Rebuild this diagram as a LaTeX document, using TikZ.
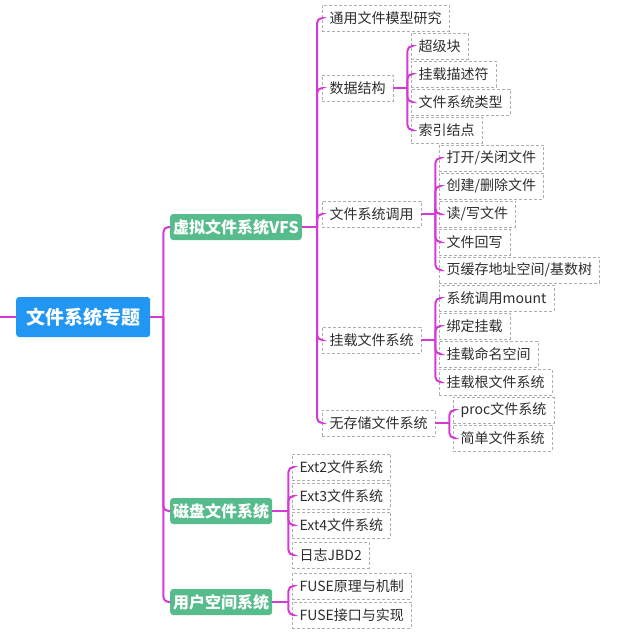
\documentclass[tikz,border=0pt]{standalone}
\usepackage{fontspec}
\setmainfont{Noto Sans CJK SC}
\usetikzlibrary{positioning}
\definecolor{linkpink}{RGB}{214,58,214}
\definecolor{rootblue}{RGB}{33,150,243}
\definecolor{topicgreen}{RGB}{86,188,140}
\definecolor{leafline}{RGB}{175,175,175}
\definecolor{leaftext}{RGB}{45,45,45}

\begin{document}
\begin{tikzpicture}[
    x=1pt, y=-1pt,
    root/.style={fill=rootblue, text=white, rounded corners=3pt, anchor=west,
                 font=\fontsize{19}{21}\selectfont\bfseries, minimum height=40pt, inner xsep=10pt},
    topic/.style={fill=topicgreen, text=white, rounded corners=3pt, anchor=west,
                  font=\fontsize{16}{18}\selectfont\bfseries, minimum height=26pt, inner xsep=3pt},
    leaf/.style={draw=leafline, dash pattern=on 3pt off 2pt, text=leaftext, anchor=west,
                 font=\fontsize{14}{16}\selectfont, minimum height=26pt, inner xsep=7.5pt},
    link/.style={linkpink, line width=2pt},
    fork/.style={link, rounded corners=5pt}
  ]
  \useasboundingbox (0,0) rectangle (641,633);

  % root and topics
  \node[root] (root) at (16,317) {文件系统专题};
  \node[topic] (vfs) at (170,227) {虚拟文件系统VFS};
  \node[topic] (disk) at (170,511) {磁盘文件系统};
  \node[topic] (user) at (170,602) {用户空间系统};

  % VFS branch
  \node[leaf] (model) at (322,18) {通用文件模型研究};
  \node[leaf] (data) at (322,88) {数据结构};
  \node[leaf] (call) at (322,214) {文件系统调用};
  \node[leaf] (mnt) at (322,340) {挂载文件系统};
  \node[leaf] (nostore) at (322,423) {无存储文件系统};

  \node[leaf] (sb) at (411,46) {超级块};
  \node[leaf] (mdesc) at (411,74) {挂载描述符};
  \node[leaf] (fstype) at (411,102) {文件系统类型};
  \node[leaf] (inode) at (411,130) {索引结点};

  \node[leaf] (open) at (439,158) {打开/关闭文件};
  \node[leaf] (create) at (439,186) {创建/删除文件};
  \node[leaf] (rw) at (439,214) {读/写文件};
  \node[leaf] (wb) at (439,242) {文件回写};
  \node[leaf] (cache) at (439,270) {页缓存地址空间/基数树};

  \node[leaf] (mount) at (439,298) {系统调用mount};
  \node[leaf] (bind) at (439,326) {绑定挂载};
  \node[leaf] (ns) at (439,354) {挂载命名空间};
  \node[leaf] (rootfs) at (439,382) {挂载根文件系统};

  \node[leaf] (proc) at (453,410) {proc文件系统};
  \node[leaf] (simple) at (453,438) {简单文件系统};

  % disk and user branches
  \node[leaf] (ext2) at (292,467) {Ext2文件系统};
  \node[leaf] (ext3) at (292,496) {Ext3文件系统};
  \node[leaf] (ext4) at (292,525) {Ext4文件系统};
  \node[leaf] (jbd) at (292,555) {日志JBD2};

  \node[leaf] (fusea) at (292,586) {FUSE原理与机制};
  \node[leaf] (fuseb) at (292,615) {FUSE接口与实现};

  % forks
  \coordinate (entry) at (0,317);
  \path (root.east) ++(13,0) coordinate (rootfork);
  \path (vfs.east) ++(15,0) coordinate (vfsfork);
  \path (data.east) ++(14,0) coordinate (datafork);
  \path (call.east) ++(14,0) coordinate (callfork);
  \path (mnt.east) ++(14,0) coordinate (mntfork);
  \path (nostore.east) ++(14,0) coordinate (nostorefork);
  \path (disk.east) ++(16,0) coordinate (diskfork);
  \path (user.east) ++(16,0) coordinate (userfork);

  \draw[link] (entry) -- (root.west);
  \draw[link] (root.east) -- (rootfork);
  \foreach \k in {vfs,disk,user} \draw[fork] (rootfork) |- (\k.west);

  \draw[link] (vfs.east) -- (vfsfork);
  \foreach \k in {model,data,call,mnt,nostore} \draw[fork] (vfsfork) |- (\k.west);

  \draw[link] (data.east) -- (datafork);
  \foreach \k in {sb,mdesc,fstype,inode} \draw[fork] (datafork) |- (\k.west);

  \draw[link] (call.east) -- (callfork);
  \foreach \k in {open,create,rw,wb,cache} \draw[fork] (callfork) |- (\k.west);

  \draw[link] (mnt.east) -- (mntfork);
  \foreach \k in {mount,bind,ns,rootfs} \draw[fork] (mntfork) |- (\k.west);

  \draw[link] (nostore.east) -- (nostorefork);
  \foreach \k in {proc,simple} \draw[fork] (nostorefork) |- (\k.west);

  \draw[link] (disk.east) -- (diskfork);
  \foreach \k in {ext2,ext3,ext4,jbd} \draw[fork] (diskfork) |- (\k.west);

  \draw[link] (user.east) -- (userfork);
  \foreach \k in {fusea,fuseb} \draw[fork] (userfork) |- (\k.west);
\end{tikzpicture}
\end{document}
